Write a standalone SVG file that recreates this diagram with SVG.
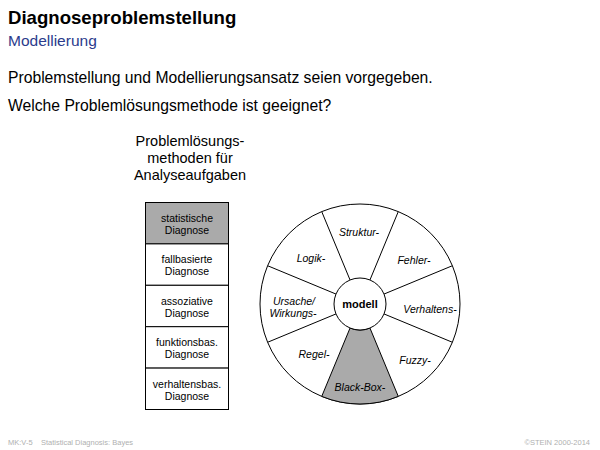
<svg xmlns="http://www.w3.org/2000/svg" width="600" height="450" viewBox="0 0 600 450">
<style>
text{font-family:"Liberation Sans",Arial,sans-serif;fill:#000}
.title{font-size:18.6px;font-weight:bold}
.sub{font-size:15.5px;fill:#2b3b8c}
.body{font-size:15.7px}
.head{font-size:14.5px}
.cell{font-size:10.5px}
.seg{font-size:10.5px;font-style:italic}
.foot{font-size:7.5px;fill:#b0b0b0}
.box{stroke:#000;stroke-width:1;fill:#fff}
.line{stroke:#000;stroke-width:1;fill:none}
</style>
<rect width="600" height="450" fill="#fff"/>
<text class="title" x="8" y="24">Diagnoseproblemstellung</text>
<text class="sub" x="8" y="46">Modellierung</text>
<text class="body" x="8" y="83">Problemstellung und Modellierungsansatz seien vorgegeben.</text>
<text class="body" x="8" y="111">Welche Problemlösungsmethode ist geeignet?</text>
<g id="table-heading" text-anchor="middle">
<text class="head" x="190" y="146">Problemlösungs-</text>
<text class="head" x="190" y="163">methoden für</text>
<text class="head" x="190" y="180">Analyseaufgaben</text>
</g>
<g id="methods" text-anchor="middle">
<g id="m1"><rect class="box" x="145.5" y="202.5" width="83" height="41.4" style="fill:#aaaaaa"/><text class="cell" x="187" y="222">statistische</text><text class="cell" x="187" y="234">Diagnose</text></g>
<g id="m2"><rect class="box" x="145.5" y="243.9" width="83" height="41.4"/><text class="cell" x="187" y="263.4">fallbasierte</text><text class="cell" x="187" y="275.4">Diagnose</text></g>
<g id="m3"><rect class="box" x="145.5" y="285.3" width="83" height="41.4"/><text class="cell" x="187" y="304.8">assoziative</text><text class="cell" x="187" y="316.8">Diagnose</text></g>
<g id="m4"><rect class="box" x="145.5" y="326.7" width="83" height="41.4"/><text class="cell" x="187" y="346.2">funktionsbas.</text><text class="cell" x="187" y="358.2">Diagnose</text></g>
<g id="m5"><rect class="box" x="145.5" y="368.1" width="83" height="41.4"/><text class="cell" x="187" y="387.6">verhaltensbas.</text><text class="cell" x="187" y="399.6">Diagnose</text></g>
</g>
<g id="wheel">
<circle class="box" cx="360" cy="304" r="100"/>
<path id="blackbox-seg" d="M 350.05 328.02 L 321.73 396.39 A 100 100 0 0 0 398.27 396.39 L 369.95 328.02 A 26 26 0 0 1 350.05 328.02 Z" fill="#aaaaaa" stroke="#000" stroke-width="1"/>
<g id="spokes">
<line class="line" x1="369.95" y1="279.98" x2="398.27" y2="211.61"/>
<line class="line" x1="384.02" y1="294.05" x2="452.39" y2="265.73"/>
<line class="line" x1="384.02" y1="313.95" x2="452.39" y2="342.27"/>
<line class="line" x1="335.98" y1="313.95" x2="267.61" y2="342.27"/>
<line class="line" x1="335.98" y1="294.05" x2="267.61" y2="265.73"/>
<line class="line" x1="350.05" y1="279.98" x2="321.73" y2="211.61"/>
</g>
<circle class="box" cx="360" cy="304" r="26"/>
<g text-anchor="middle">
<text x="360" y="308" style="font-size:11px;font-weight:bold">modell</text>
<text class="seg" x="359" y="236">Struktur-</text>
<text class="seg" x="311" y="262">Logik-</text>
<text class="seg" x="414" y="264">Fehler-</text>
<text class="seg" x="294" y="305">Ursache/</text>
<text class="seg" x="293" y="317">Wirkungs-</text>
<text class="seg" x="430" y="313">Verhaltens-</text>
<text class="seg" x="314" y="358">Regel-</text>
<text class="seg" x="415" y="364">Fuzzy-</text>
<text class="seg" x="360" y="391">Black-Box-</text>
</g>
</g>
<text class="foot" x="8" y="445" xml:space="preserve">MK:V-5    Statistical Diagnosis: Bayes</text>
<text class="foot" x="590" y="445" text-anchor="end">©STEIN 2000-2014</text>
</svg>
